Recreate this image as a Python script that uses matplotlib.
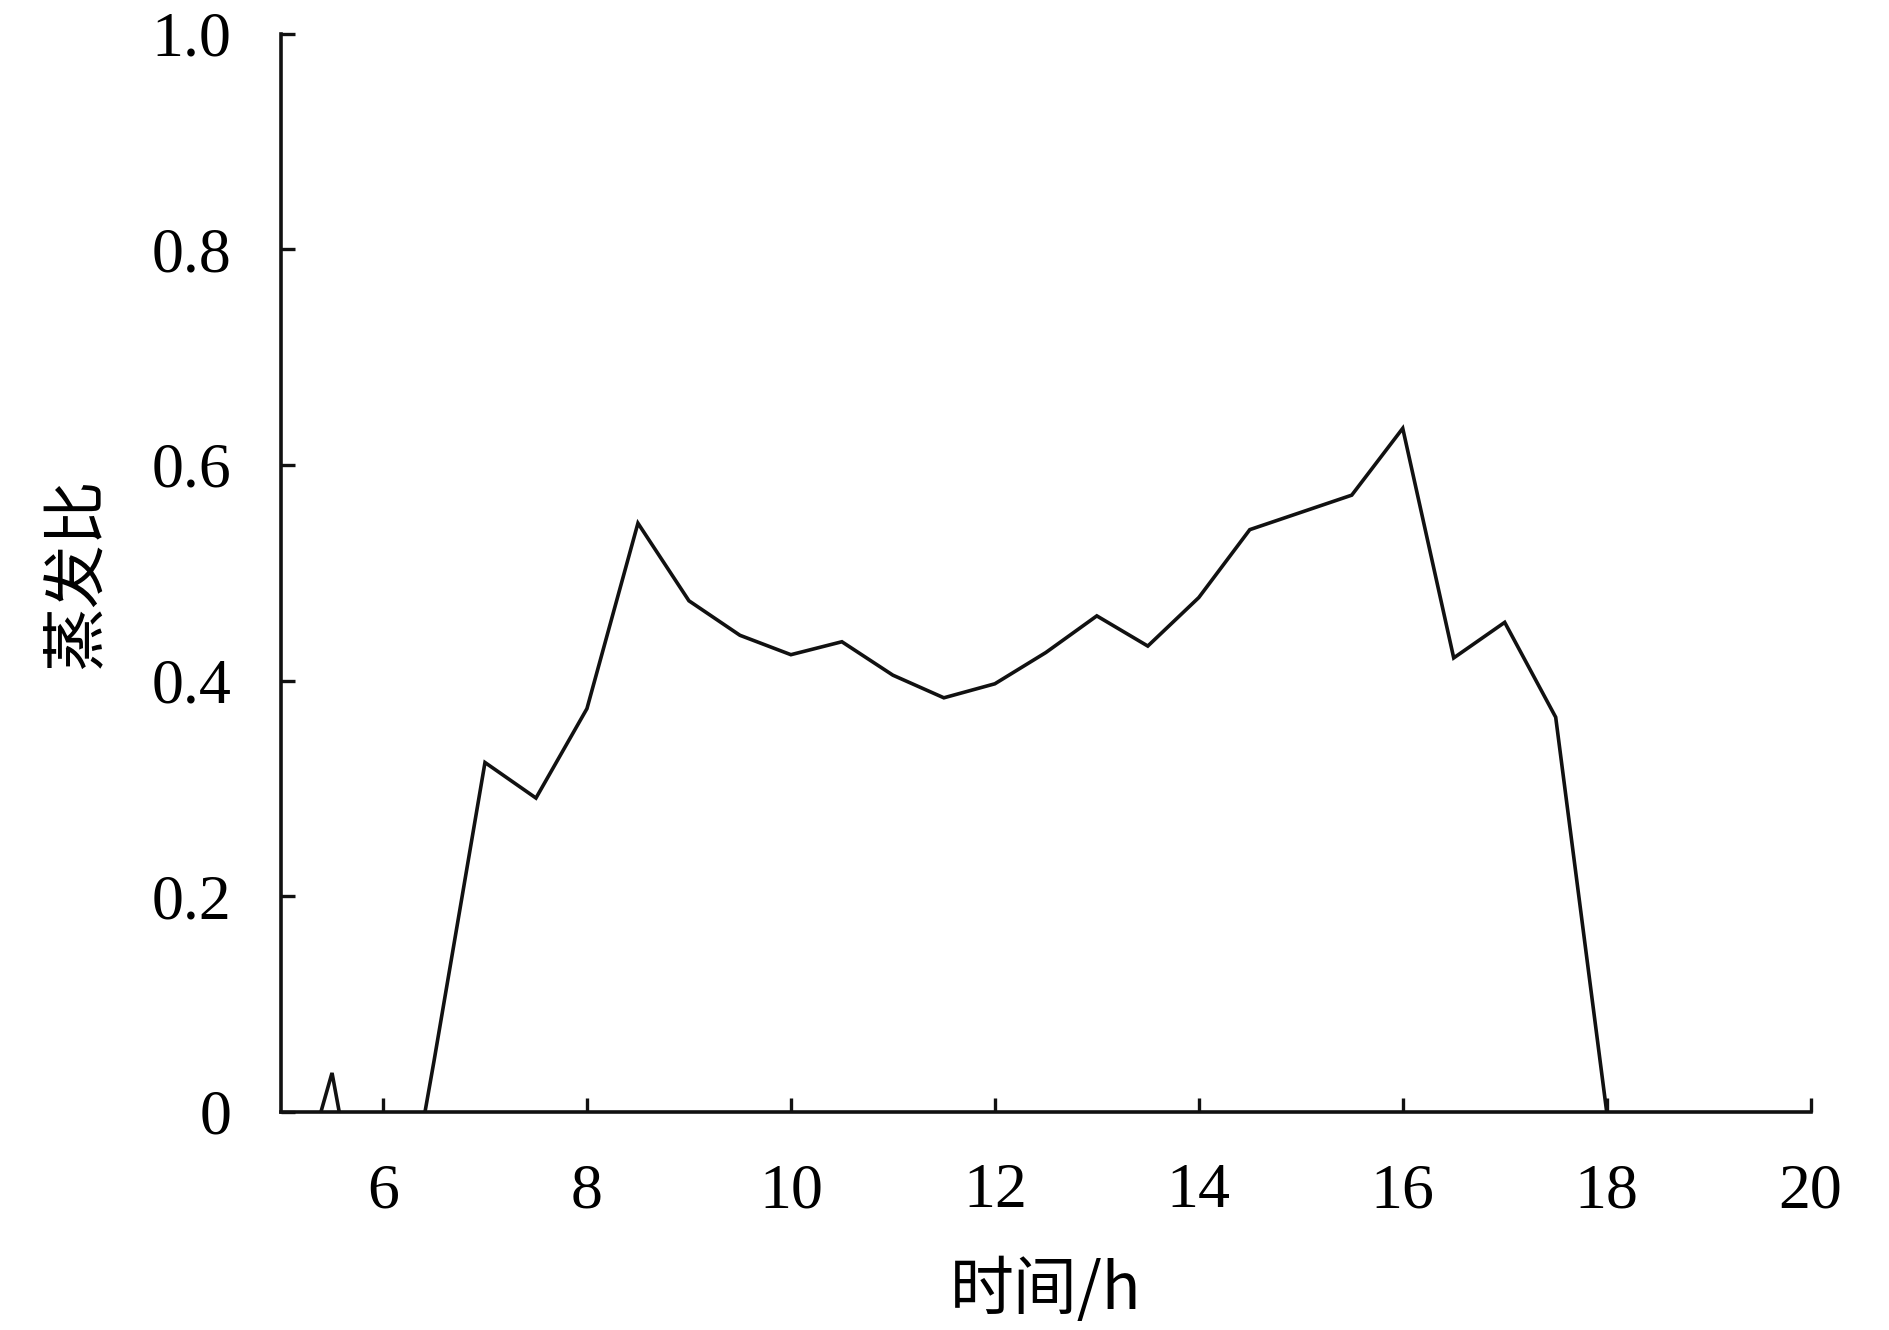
import numpy as np
import matplotlib
matplotlib.use('Agg')
import matplotlib.pyplot as plt

# 时间 (h) and 蒸发比, half-hour steps; negatives are clipped by the axis at 0
hours = [5.0, 5.5, 6.0, 6.5, 7.0, 7.5, 8.0, 8.5, 9.0, 9.5, 10.0, 10.5, 11.0, 11.5,
         12.0, 12.5, 13.0, 13.5, 14.0, 14.5, 15.0, 15.5, 16.0, 16.5, 17.0, 17.5, 18.0]
ratio = [-0.13, 0.036, -0.22, 0.047, 0.324, 0.291, 0.374, 0.546, 0.474, 0.442, 0.424,
         0.436, 0.405, 0.384, 0.397, 0.426, 0.460, 0.432, 0.477, 0.540, 0.556, 0.572,
         0.634, 0.421, 0.454, 0.366, 0.0]
xticks = [6, 8, 10, 12, 14, 16, 18, 20]
yticks = [0, 0.2, 0.4, 0.6, 0.8, 1.0]
ylabels = ['0', '0.2', '0.4', '0.6', '0.8', '1.0']

serif = ['Liberation Serif', 'Noto Sans CJK SC']
cjk = ['Noto Sans CJK SC', 'Liberation Serif']

fig = plt.figure(figsize=(18.9, 13.3), dpi=100)
ax = fig.add_axes([0.1487, 0.1641, 0.8093, 0.8105])
ax.plot(hours, ratio, color='#111111', lw=2.6, solid_joinstyle='miter')
ax.set_xlim(5, 20)
ax.set_ylim(0, 1.0)
ax.set_xticks(xticks)
ax.set_yticks(yticks)
ax.set_xticklabels([str(t) for t in xticks], family=serif, fontsize=46)
ax.set_yticklabels(ylabels, family=serif, fontsize=46)
ax.tick_params(direction='in', length=10, width=2.4, color='#111111')
ax.tick_params(axis='y', pad=36)
ax.tick_params(axis='x', pad=37)
for s in ['top', 'right']:
    ax.spines[s].set_visible(False)
for s in ['left', 'bottom']:
    ax.spines[s].set_linewidth(2.6)
    ax.spines[s].set_color('#111111')
ax.set_xlabel('时间/h', family=cjk, fontsize=46, labelpad=26)
ax.set_ylabel('蒸发比', family=cjk, fontsize=46, labelpad=30)
fig.savefig('out.png', dpi=100)
